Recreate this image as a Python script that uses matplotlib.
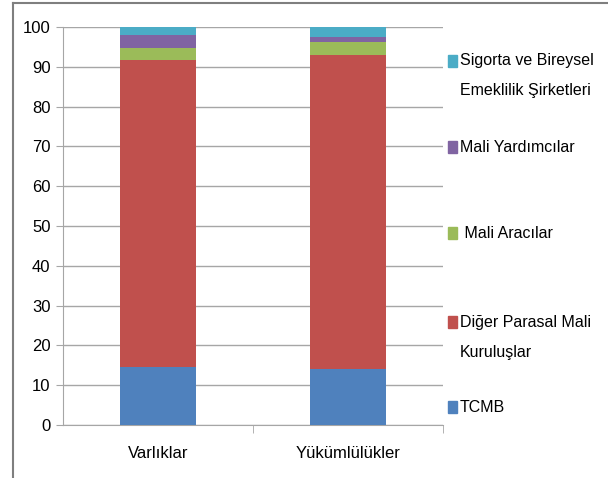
import matplotlib.pyplot as plt
from matplotlib.lines import Line2D
from matplotlib.patches import Rectangle

plt.rcParams["font.family"] = ["Liberation Sans Narrow", "Liberation Sans", "DejaVu Sans"]

categories = ["Varlıklar", "Yükümlülükler"]
series_names = [
    "TCMB",
    "Diğer Parasal Mali\nKuruluşlar",
    " Mali Aracılar",
    "Mali Yardımcılar",
    "Sigorta ve Bireysel\nEmeklilik Şirketleri",
]
tcmb = [14.5, 14.0]
diger = [77.2, 79.0]
aracilar = [3.1, 3.2]
yardimcilar = [3.2, 1.3]
sigorta = [2.0, 2.5]
series_values = [tcmb, diger, aracilar, yardimcilar, sigorta]
colors = ["#4F81BD", "#C0504D", "#9BBB59", "#8064A2", "#4BACC6"]
y_ticks = list(range(0, 101, 10))

W, H = 608, 478
fig = plt.figure(figsize=(W / 100, H / 100), dpi=100)
ax = fig.add_axes([63 / W, 1 - 425 / H, (443 - 63) / W, (425 - 27) / H])

x = list(range(len(categories)))
bottom = [0.0] * len(categories)
for vals, col in zip(series_values, colors):
    ax.bar(x, vals, width=0.4, bottom=bottom, color=col, zorder=3)
    bottom = [b + v for b, v in zip(bottom, vals)]

ax.set_xlim(-0.5, 1.5)
ax.set_ylim(0, 100)
ax.set_yticks(y_ticks)
ax.set_yticklabels([str(t) for t in y_ticks], fontsize=12)
ax.yaxis.grid(True, color="#a6a6a6", lw=1, zorder=0)
ax.set_xticks(x)
ax.set_xticklabels(categories, fontsize=12)
ax.tick_params(axis="x", length=0, pad=15)
ax.set_xticks([0.5, 1.5], minor=True)
ax.tick_params(axis="x", which="minor", length=6, color="#a6a6a6")
ax.tick_params(axis="y", length=5, color="#a6a6a6", pad=4)
for side in ["top", "right"]:
    ax.spines[side].set_visible(False)
for side in ["left", "bottom"]:
    ax.spines[side].set_color("#a6a6a6")

# legend laid out like the spreadsheet one, spread over the height
legend_y = [407, 322, 233, 147, 61]
for name, col, yp in zip(series_names, colors, legend_y):
    fig.add_artist(Rectangle((448 / W, 1 - (yp + 6) / H), 9 / W, 12 / H,
                             transform=fig.transFigure, color=col))
    for i, line in enumerate(name.split("\n")):
        fig.text(460 / W, 1 - (yp + 30 * i) / H, line, fontsize=11.5,
                 va="center", ha="left")

# frame lines of the pasted chart
fig.add_artist(Line2D([13 / W, 13 / W], [0, 1 - 3 / H], color="#7f7f7f", lw=1.5))
fig.add_artist(Line2D([13 / W, 1], [1 - 3 / H, 1 - 3 / H], color="#7f7f7f", lw=1.5))

fig.savefig("out.png", dpi=100)
